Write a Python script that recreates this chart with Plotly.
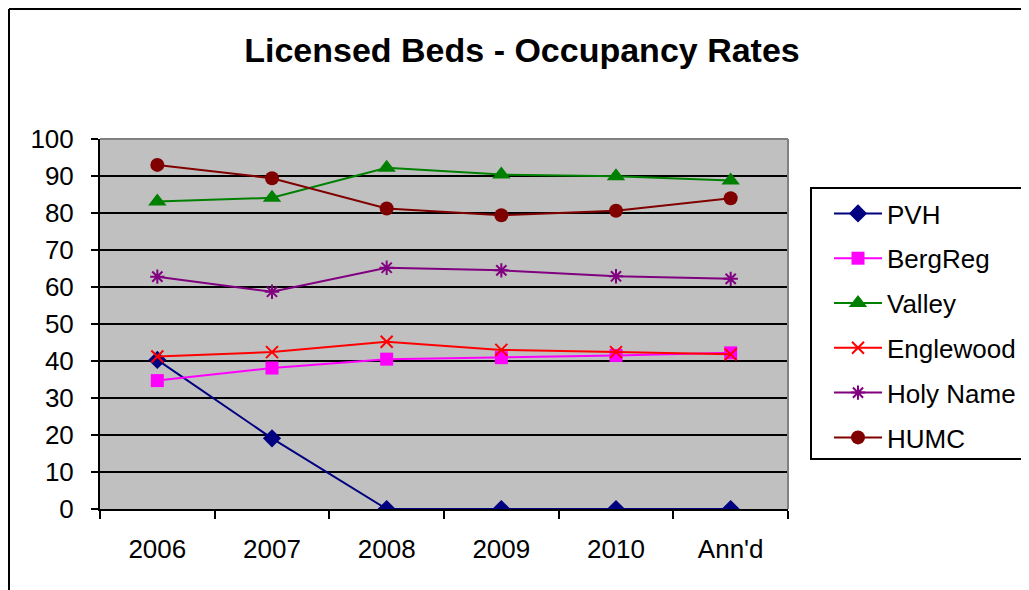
import plotly.graph_objects as go

categories = ["2006", "2007", "2008", "2009", "2010", "Ann'd"]
pvh = [40.3, 19.1, 0, 0, 0, 0]
bergreg = [34.7, 38.1, 40.5, 40.9, 41.5, 42.2]
valley = [83.1, 84.1, 92.2, 90.4, 89.9, 88.8]
englewood = [41.2, 42.4, 45.2, 43.0, 42.4, 41.8]
holyname = [62.8, 58.7, 65.2, 64.5, 62.9, 62.2]
humc = [93.0, 89.4, 81.2, 79.4, 80.6, 84.0]

series = [
    ("PVH", pvh, "#000080", dict(symbol="diamond", size=14)),
    ("BergReg", bergreg, "#FF00FF", dict(symbol="square", size=13)),
    ("Valley", valley, "#008000", dict(symbol="triangle-up", size=16)),
    ("Englewood", englewood, "#FF0000", dict(symbol="x-thin-open", size=12, line=dict(width=2, color="#FF0000"))),
    ("Holy Name", holyname, "#800080", dict(symbol="asterisk-open", size=12, line=dict(width=2, color="#800080"))),
    ("HUMC", humc, "#800000", dict(symbol="circle", size=14)),
]

# the page places the figure 8px in from the top-left corner
OFF = 8
W, H = 1029, 590
L, R, T, B = 100 - OFF, 788 - OFF, 139 - OFF, 509 - OFF

def px(x):
    return (x - OFF - L) / (R - L)

def py(y):
    return (B - (y - OFF)) / (B - T)

fig = go.Figure()
for name, vals, color, marker in series:
    m = dict(color=color)
    m.update(marker)
    fig.add_trace(go.Scatter(
        x=categories, y=vals, name=name, mode="lines+markers",
        line=dict(color=color, width=2), marker=m, legendgroup=name,
    ))

font = "Liberation Sans, Arial, sans-serif"
fig.update_layout(
    width=W, height=H,
    margin=dict(l=L, r=W - R, t=T, b=H - B),
    paper_bgcolor="white", plot_bgcolor="#C0C0C0",
    font=dict(family=font, size=26, color="black"),
    title=dict(text="<b>Licensed Beds - Occupancy Rates</b>", x=(522 - OFF) / W, xanchor="center",
               y=1 - (50 - OFF) / H, yanchor="middle", font=dict(size=34, family=font)),
    showlegend=True,
    legend=dict(x=px(829), xanchor="left", y=py(190), yanchor="top",
                bgcolor="rgba(0,0,0,0)", borderwidth=0, font=dict(size=26, family=font),
                tracegroupgap=8, traceorder="grouped", itemwidth=48),
    xaxis=dict(type="category", range=[-0.5, 5.5], showgrid=False, showline=True,
               linecolor="black", linewidth=2, ticks="outside", tickson="boundaries",
               ticklen=8, tickwidth=2, tickcolor="black", ticklabelstandoff=16, fixedrange=True),
    yaxis=dict(range=[0, 100], dtick=10, showgrid=True, gridcolor="black", gridwidth=2,
               zeroline=False, showline=True, linecolor="black", linewidth=2,
               ticks="outside", ticklen=7, tickwidth=2, tickcolor="black", ticklabelstandoff=12),
)

shapes = [
    # outer chart frame
    dict(type="line", xref="paper", yref="paper", x0=px(OFF + 1), y0=py(620), x1=px(OFF + 1), y1=py(OFF + 1),
         line=dict(color="black", width=2), layer="above"),
    dict(type="line", xref="paper", yref="paper", x0=px(OFF + 1), y0=py(OFF + 1), x1=px(1100), y1=py(OFF + 1),
         line=dict(color="black", width=2), layer="above"),
    # plot area top & right border
    dict(type="line", xref="paper", yref="paper", x0=0, y0=1, x1=1, y1=1,
         line=dict(color="#808080", width=2), layer="above"),
    dict(type="line", xref="paper", yref="paper", x0=1, y0=0, x1=1, y1=1,
         line=dict(color="#808080", width=2), layer="above"),
    # legend box
    dict(type="rect", xref="paper", yref="paper", x0=px(811), y0=py(459), x1=px(1100), y1=py(188),
         line=dict(color="black", width=2), fillcolor="rgba(0,0,0,0)", layer="above"),
]
fig.update_layout(shapes=shapes)

fig.write_html("out.html")
